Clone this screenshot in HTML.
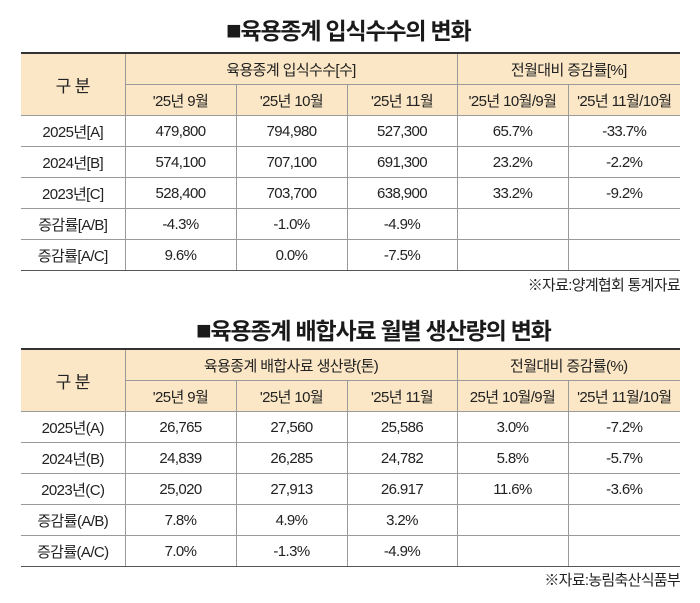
<!DOCTYPE html>
<html><head><meta charset="utf-8"><style>
body{margin:0;width:700px;height:603px;background:#fff;font-family:"Liberation Sans","Noto Sans CJK KR",sans-serif;color:#222;position:relative;overflow:hidden}
.t{position:absolute;font-weight:bold;font-size:23px;letter-spacing:-1.2px;color:#1a1a1a}
.t b{font-size:26px}
table{position:absolute;left:21px;width:659px;border-collapse:collapse;table-layout:fixed;font-size:15px;letter-spacing:-0.6px}
td{border:1px solid #999;text-align:center;height:30px;padding:0}
tr:first-child td{border-top:2px solid #333}
tr:last-child td{border-bottom:1.5px solid #555}
td:first-child{border-left:none}td:last-child{border-right:none}
.h td{background:#fbe6c5}
td.h{background:#fbe6c5;font-size:17px}
.s{position:absolute;right:20px;font-size:15px;letter-spacing:-0.7px}
</style></head><body>
<div class="t" style="left:226px;top:12px"><b>■</b>육용종계 입식수수의 변화</div>
<table style="top:52px">
<colgroup><col style="width:104px"><col style="width:111px"><col style="width:111px"><col style="width:110px"><col style="width:111px"><col style="width:112px"></colgroup>
<tr class="h"><td rowspan="2" class="h">구 분</td><td colspan="3">육용종계 입식수수[수]</td><td colspan="2">전월대비 증감률[%]</td></tr>
<tr class="h"><td>'25년 9월</td><td>'25년 10월</td><td>'25년 11월</td><td>'25년 10월/9월</td><td>'25년 11월/10월</td></tr>
<tr><td>2025년[A]</td><td>479,800</td><td>794,980</td><td>527,300</td><td>65.7%</td><td>-33.7%</td></tr>
<tr><td>2024년[B]</td><td>574,100</td><td>707,100</td><td>691,300</td><td>23.2%</td><td>-2.2%</td></tr>
<tr><td>2023년[C]</td><td>528,400</td><td>703,700</td><td>638,900</td><td>33.2%</td><td>-9.2%</td></tr>
<tr><td>증감률[A/B]</td><td>-4.3%</td><td>-1.0%</td><td>-4.9%</td><td></td><td></td></tr>
<tr><td>증감률[A/C]</td><td>9.6%</td><td>0.0%</td><td>-7.5%</td><td></td><td></td></tr>
</table>
<div class="s" style="top:274px">※자료:양계협회 통계자료</div>
<div class="t" style="left:196px;top:312px"><b>■</b>육용종계 배합사료 월별 생산량의 변화</div>
<table style="top:348px">
<colgroup><col style="width:104px"><col style="width:111px"><col style="width:111px"><col style="width:110px"><col style="width:111px"><col style="width:112px"></colgroup>
<tr class="h"><td rowspan="2" class="h">구 분</td><td colspan="3">육용종계 배합사료 생산량(톤)</td><td colspan="2">전월대비 증감률(%)</td></tr>
<tr class="h"><td>'25년 9월</td><td>'25년 10월</td><td>'25년 11월</td><td>25년 10월/9월</td><td>'25년 11월/10월</td></tr>
<tr><td>2025년(A)</td><td>26,765</td><td>27,560</td><td>25,586</td><td>3.0%</td><td>-7.2%</td></tr>
<tr><td>2024년(B)</td><td>24,839</td><td>26,285</td><td>24,782</td><td>5.8%</td><td>-5.7%</td></tr>
<tr><td>2023년(C)</td><td>25,020</td><td>27,913</td><td>26.917</td><td>11.6%</td><td>-3.6%</td></tr>
<tr><td>증감률(A/B)</td><td>7.8%</td><td>4.9%</td><td>3.2%</td><td></td><td></td></tr>
<tr><td>증감률(A/C)</td><td>7.0%</td><td>-1.3%</td><td>-4.9%</td><td></td><td></td></tr>
</table>
<div class="s" style="top:569px">※자료:농림축산식품부</div>
</body></html>
